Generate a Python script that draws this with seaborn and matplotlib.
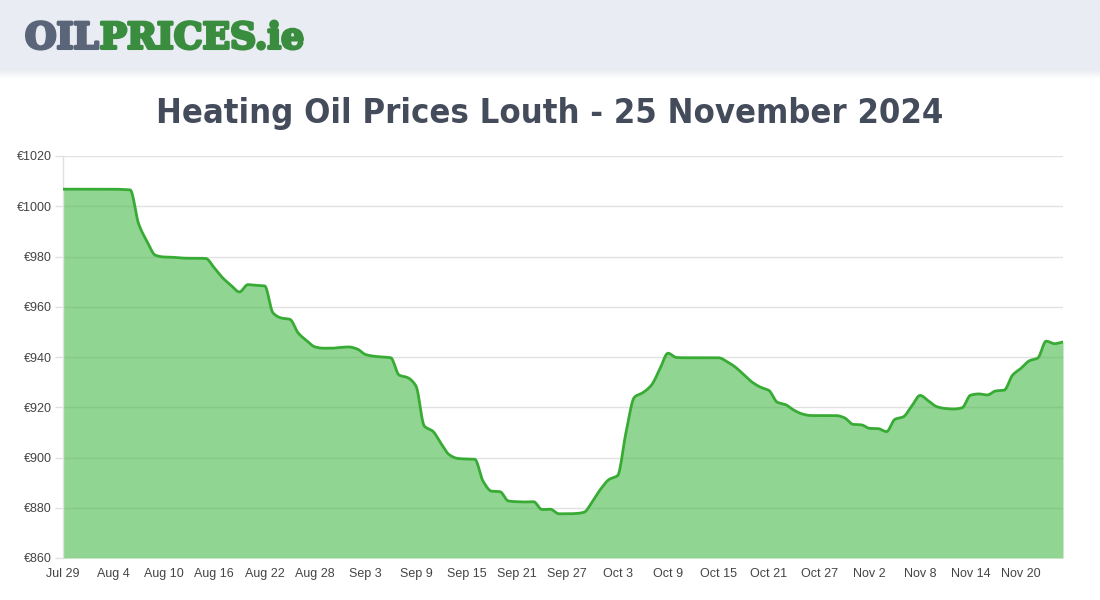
import numpy as np
import pandas as pd
import matplotlib
matplotlib.use("Agg")
import matplotlib.pyplot as plt
import matplotlib.patheffects as pe
import seaborn as sns
from matplotlib.patches import Rectangle

# ---- data ----
start_date = "2024-07-29"
prices = [
    1006.8, 1006.8, 1006.8, 1006.8, 1006.8, 1006.8, 1006.8, 1006.7, 1006.5, 993.0,
    986.0, 980.5, 979.8, 979.7, 979.4, 979.3, 979.3, 979.2, 975.5, 971.5,
    968.5, 965.9, 968.8, 968.5, 968.3, 957.5, 955.5, 955.0, 949.5, 946.5,
    944.0, 943.5, 943.5, 943.8, 944.0, 943.2, 941.0, 940.3, 940.0, 939.7,
    932.8, 931.8, 928.5, 912.5, 910.5, 905.5, 901.0, 899.6, 899.4, 899.3,
    890.5, 886.6, 886.4, 882.7, 882.4, 882.3, 882.4, 879.3, 879.4, 877.6,
    877.6, 877.7, 878.2, 882.5, 887.5, 891.3, 892.8, 910.0, 924.0, 925.8,
    928.7, 935.0, 941.5, 939.8, 939.7, 939.7, 939.7, 939.7, 939.7, 938.2,
    936.0, 933.0, 930.0, 928.0, 926.7, 922.0, 921.0, 918.8, 917.3, 916.7,
    916.7, 916.7, 916.7, 915.8, 913.2, 913.0, 911.6, 911.5, 910.3, 915.2,
    916.2, 920.5, 924.7, 922.5, 920.2, 919.5, 919.3, 919.8, 924.8, 925.3,
    924.9, 926.5, 926.8, 932.8, 935.5, 938.5, 939.6, 946.3, 945.3, 946.0,
]
x_tick_labels = ["Jul 29", "Aug 4", "Aug 10", "Aug 16", "Aug 22", "Aug 28",
                 "Sep 3", "Sep 9", "Sep 15", "Sep 21", "Sep 27", "Oct 3",
                 "Oct 9", "Oct 15", "Oct 21", "Oct 27", "Nov 2", "Nov 8",
                 "Nov 14", "Nov 20"]
y_ticks = [860, 880, 900, 920, 940, 960, 980, 1000, 1020]
title = "Heating Oil Prices Louth - 25 November 2024"
logo_a, logo_b = "OIL", "PRICES.ie"

df = pd.DataFrame({"day": np.arange(len(prices), dtype=float), "price": prices})
df["date"] = pd.Timestamp(start_date) + pd.to_timedelta(df["day"], unit="D")


def monotone_curve(x, y, n=12):
    """Render-only smoothing (monotone cubic, like the web chart's line tension)."""
    x = np.asarray(x, float)
    y = np.asarray(y, float)
    h = np.diff(x)
    d = np.diff(y) / h
    m = np.zeros_like(y)
    m[0], m[-1] = d[0], d[-1]
    for i in range(1, len(y) - 1):
        if d[i - 1] * d[i] <= 0:
            m[i] = 0.0
        else:
            m[i] = 2.0 / (1.0 / d[i - 1] + 1.0 / d[i])
    xs, ys = [], []
    for i in range(len(x) - 1):
        t = np.linspace(0, 1, n, endpoint=False)
        h00 = 2 * t**3 - 3 * t**2 + 1
        h10 = t**3 - 2 * t**2 + t
        h01 = -2 * t**3 + 3 * t**2
        h11 = t**3 - t**2
        xs.append(x[i] + t * h[i])
        ys.append(h00 * y[i] + h10 * h[i] * m[i] + h01 * y[i + 1] + h11 * h[i] * m[i + 1])
    xs.append([x[-1]])
    ys.append([y[-1]])
    return np.concatenate(xs), np.concatenate(ys)


sx, sy = monotone_curve(df["day"], df["price"])
smooth = pd.DataFrame({"day": sx, "price": sy})

sns.set_theme(style="white")
plt.rcParams["font.family"] = ["Liberation Sans", "DejaVu Sans"]

fig = plt.figure(figsize=(11, 6), dpi=100)
fig.patch.set_facecolor("white")

# header band
fig.patches.append(Rectangle((0, 1 - 70 / 600), 1, 70 / 600, transform=fig.transFigure,
                             facecolor="#e9ecf3", edgecolor="none", zorder=0))
for i in range(8):
    fig.patches.append(Rectangle((0, 1 - (71 + i) / 600), 1, 1 / 600, transform=fig.transFigure,
                                 facecolor="#c8ccd6", alpha=0.35 * (1 - i / 8), edgecolor="none", zorder=0))

# logo
logo_y = 1 - 38.5 / 600
stroke_a = [pe.withStroke(linewidth=2.2, foreground="#5b6579")]
stroke_b = [pe.withStroke(linewidth=2.2, foreground="#3a8d3f")]
t1 = fig.text(25 / 1100, logo_y, logo_a, color="#5b6579", fontsize=26, fontweight="bold",
              family="DejaVu Serif", va="center", ha="left", path_effects=stroke_a)
fig.canvas.draw()
bb = t1.get_window_extent()
t2 = fig.text(bb.x1 / 1100 + 0.001, logo_y, logo_b, color="#3a8d3f", fontsize=26,
              fontweight="bold", family="DejaVu Serif", va="center", ha="left",
              path_effects=stroke_b)

# title (fit to reference width)
tt = fig.text(550 / 1100, 1 - 114 / 600, title, color="#444b5b", fontsize=30,
              family="DejaVu Sans", fontstretch="condensed", fontweight="bold",
              ha="center", va="center")
fig.canvas.draw()
w = tt.get_window_extent().width
tt.set_fontsize(30 * 785 / w)

ax = fig.add_axes([63 / 1100, 1 - 558 / 600, 1000 / 1100, 402 / 600])
ax.set_facecolor("white")

ax.fill_between(smooth["day"], 860, smooth["price"], color="#48b949", alpha=0.6,
                linewidth=0, zorder=2)
sns.lineplot(data=smooth, x="day", y="price", ax=ax, color="#38ab35", linewidth=2,
             zorder=3, estimator=None, sort=False)

ax.set_xlim(0, len(prices) - 1)
ax.set_ylim(860, 1020)
ax.set_yticks(y_ticks)
ax.set_yticklabels([f"€{v}" for v in y_ticks])
ax.set_xticks(np.arange(0, 6 * len(x_tick_labels), 6))
ax.set_xticklabels(x_tick_labels)
ax.grid(axis="y", color="#e1e1e1", linewidth=1, zorder=1)
ax.set_axisbelow(True)
for s in ["top", "right", "bottom"]:
    ax.spines[s].set_visible(False)
ax.spines["left"].set_color("#e1e1e1")
ax.spines["left"].set_linewidth(1)
ax.tick_params(axis="y", length=6, width=1, color="#e1e1e1", labelsize=9,
               labelcolor="#444444", pad=2, left=True)
ax.tick_params(axis="x", length=0, labelsize=9, labelcolor="#444444", pad=7)
ax.set_xlabel("")
ax.set_ylabel("")

fig.savefig("out.png", dpi=100)
